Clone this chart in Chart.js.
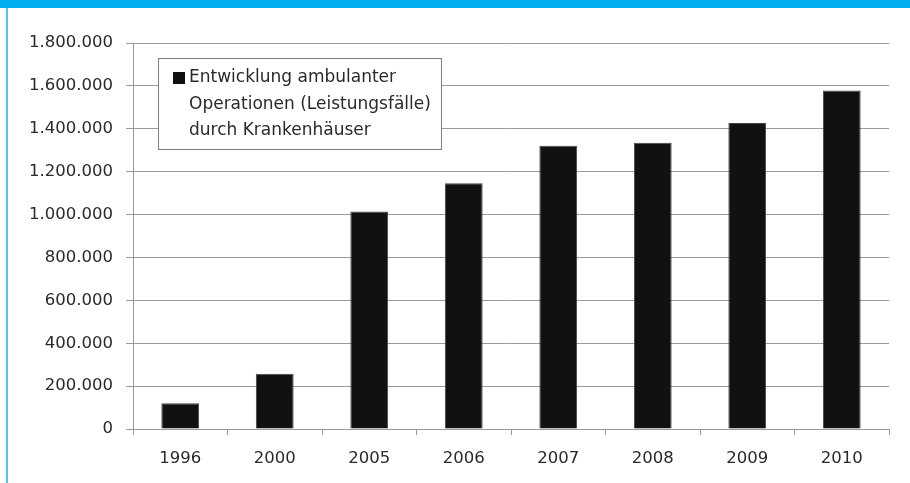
<!DOCTYPE html>
<html>
<head>
<meta charset="utf-8">
<script src="https://cdn.jsdelivr.net/npm/chart.js@4"></script>
<style>
  html, body { margin: 0; padding: 0; background: #fff; }
  #wrap { position: relative; width: 910px; height: 483px; overflow: hidden; }
  #topbar { position: absolute; left: 0; top: 0; width: 910px; height: 8px; background: #00aeef; }
  #sidebar { position: absolute; left: 6px; top: 8px; width: 2px; height: 475px; background: #4fc3f0; }
  #chartBox { position: absolute; left: 0; top: 0; width: 910px; height: 483px; }
</style>
</head>
<body>
<div id="wrap">
  <div id="topbar"></div>
  <div id="sidebar"></div>
  <div id="chartBox"><canvas id="chart"></canvas></div>
</div>
<script>
// Jahre
const years = ['1996', '2000', '2005', '2006', '2007', '2008', '2009', '2010'];
// ambulante Operationen (Leistungsfälle) durch Krankenhäuser
const cases = [120000, 258000, 1014000, 1146000, 1321000, 1335000, 1427000, 1578000];
const legendLines = ['Entwicklung ambulanter', 'Operationen (Leistungsfälle)', 'durch Krankenhäuser'];

const textColor = '#2a2a2a';
const gridColor = '#9a9a9a';
const tickFont = { family: 'DejaVu Sans', size: 16.5 };

function fmt(v) {
  return String(v).replace(/\B(?=(\d{3})+(?!\d))/g, '.');
}

// legend box drawn inside the plot area
const boxLegend = {
  id: 'boxLegend',
  afterDraw(chart) {
    const ctx = chart.ctx;
    const a = chart.chartArea;
    const x = a.left + 25, y = a.top + 15, w = 283, h = 91;
    ctx.save();
    ctx.fillStyle = '#fff';
    ctx.fillRect(x, y, w, h);
    ctx.strokeStyle = '#7f7f7f';
    ctx.lineWidth = 1;
    ctx.strokeRect(x + 0.5, y + 0.5, w, h);
    ctx.fillStyle = '#111';
    ctx.fillRect(x + 15, y + 14, 12, 12);
    ctx.fillStyle = textColor;
    ctx.font = '17px "DejaVu Sans"';
    ctx.textBaseline = 'middle';
    for (let i = 0; i < legendLines.length; i++) {
      ctx.fillText(legendLines[i], x + 31, y + 20 + i * 26.5);
    }
    ctx.restore();
  }
};

const ctx = document.getElementById('chart').getContext('2d');
const chart = new Chart(ctx, {
  type: 'bar',
  data: {
    labels: years,
    datasets: [{
      label: legendLines.join(' '),
      data: cases,
      backgroundColor: '#111111',
      borderColor: '#444444',
      borderWidth: 1,
      categoryPercentage: 1,
      barPercentage: 0.4
    }]
  },
  options: {
    responsive: true,
    maintainAspectRatio: false,
    animation: false,
    layout: { padding: { top: 43, right: 21, left: 0, bottom: 0 } },
    plugins: {
      legend: { display: false },
      tooltip: { enabled: false }
    },
    scales: {
      y: {
        min: 0,
        max: 1800000,
        ticks: {
          stepSize: 200000,
          color: textColor,
          font: tickFont,
          padding: 13,
          callback: v => fmt(v)
        },
        grid: { color: gridColor, tickLength: 7 },
        border: { color: gridColor },
        afterFit(scale) { scale.width = 133; }
      },
      x: {
        ticks: { color: textColor, font: tickFont, padding: 14 },
        grid: { drawOnChartArea: false, color: gridColor, tickLength: 6 },
        border: { color: gridColor },
        afterFit(scale) { scale.height = 54; }
      }
    }
  },
  plugins: [boxLegend]
});
</script>
</body>
</html>
